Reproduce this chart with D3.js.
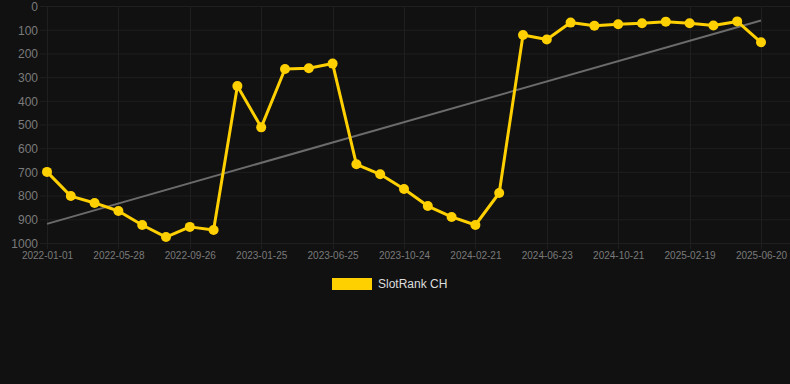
<!DOCTYPE html>
<html>
<head>
<meta charset="utf-8">
<script src="https://cdn.jsdelivr.net/npm/d3@7"></script>
<style>
  html, body { margin: 0; padding: 0; background: #111111; }
  svg { display: block; font-family: "Liberation Sans", Arial, sans-serif; }
</style>
</head>
<body>
<svg id="chart"></svg>
<script>
const dates = [
  "2022-01-01", "2022-02-19", "2022-04-09", "2022-05-28", "2022-07-08", "2022-08-17",
  "2022-09-26", "2022-11-05", "2022-12-16", "2023-01-25", "2023-03-16", "2023-05-05",
  "2023-06-25", "2023-08-04", "2023-09-13", "2023-10-24", "2023-12-03", "2024-01-12",
  "2024-02-21", "2024-04-01", "2024-05-13", "2024-06-23", "2024-08-02", "2024-09-11",
  "2024-10-21", "2024-11-30", "2025-01-10", "2025-02-19", "2025-03-31", "2025-05-11",
  "2025-06-20"
]
const ranks = [
  700, 802, 831, 865, 924, 975, 932, 945, 338, 512, 266, 263, 243, 668, 710, 772,
  844, 890, 924, 789, 122, 141, 70, 83, 77, 73, 66, 73, 82, 65, 153
]
const yTicks = [0, 100, 200, 300, 400, 500, 600, 700, 800, 900, 1000]
const seriesName = "SlotRank CH"

const width = 790
const height = 384
const margin = { top: 6, right: 29, bottom: 141, left: 47 }
const lineColor = "#ffd000"

const svg = d3.select("#chart").attr("width", width).attr("height", height)

const x = d3.scalePoint()
  .domain(dates)
  .range([margin.left, width - margin.right])

const y = d3.scaleLinear()
  .domain([0, 1000])
  .range([margin.top, height - margin.bottom])

// grid
const grid = svg.append("g").attr("class", "grid")
grid.selectAll("line.h")
  .data(yTicks)
  .join("line")
  .attr("class", "h")
  .attr("x1", 40)
  .attr("x2", width)
  .attr("y1", (d) => y(d) + 0.5)
  .attr("y2", (d) => y(d) + 0.5)
  .attr("stroke", "#1f1f1f")
  .attr("stroke-width", 1)

const labelled = dates.filter((d, i) => i % 3 === 0)
grid.selectAll("line.v")
  .data(labelled)
  .join("line")
  .attr("class", "v")
  .attr("x1", (d) => Math.round(x(d)) + 0.5)
  .attr("x2", (d) => Math.round(x(d)) + 0.5)
  .attr("y1", margin.top)
  .attr("y2", y(1000) + 6)
  .attr("stroke", "#1f1f1f")
  .attr("stroke-width", 1)

// y axis
const yAxis = svg.append("g")
  .attr("transform", `translate(${margin.left - 9},0)`)
  .call(d3.axisLeft(y).tickValues(yTicks).tickFormat(d3.format("d")).tickSize(0).tickPadding(0))
yAxis.select(".domain").remove()
yAxis.selectAll("text")
  .attr("fill", "#7a7a7a")
  .style("font-size", "12px")
  .attr("dy", "0.36em")

// x axis
const xAxis = svg.append("g")
  .attr("transform", `translate(0,${y(1000) + 9})`)
  .call(d3.axisBottom(x).tickValues(labelled).tickSize(0).tickPadding(0))
xAxis.select(".domain").remove()
xAxis.selectAll("text")
  .attr("fill", "#7a7a7a")
  .style("font-size", "10px")
  .attr("dy", "0.71em")

// trend line (least squares over index)
const n = ranks.length
const mx = d3.mean(d3.range(n))
const my = d3.mean(ranks)
const slope = d3.sum(ranks, (v, i) => (i - mx) * (v - my)) / d3.sum(d3.range(n), (i) => (i - mx) ** 2)
const icpt = my - slope * mx
svg.append("line")
  .attr("x1", x(dates[0]))
  .attr("y1", y(icpt))
  .attr("x2", x(dates[n - 1]))
  .attr("y2", y(icpt + slope * (n - 1)))
  .attr("stroke", "#6b6b6b")
  .attr("stroke-width", 2)

// series
const line = d3.line()
  .x((d, i) => x(dates[i]))
  .y((d) => y(d))

svg.append("path")
  .datum(ranks)
  .attr("d", line)
  .attr("fill", "none")
  .attr("stroke", lineColor)
  .attr("stroke-width", 3)
  .attr("stroke-linejoin", "round")

svg.append("g")
  .selectAll("circle")
  .data(ranks)
  .join("circle")
  .attr("cx", (d, i) => x(dates[i]))
  .attr("cy", (d) => y(d))
  .attr("r", 5)
  .attr("fill", lineColor)

// legend
const legend = svg.append("g").attr("transform", "translate(332,278)")
legend.append("rect")
  .attr("width", 40)
  .attr("height", 12)
  .attr("fill", lineColor)
legend.append("text")
  .attr("x", 46)
  .attr("y", 6)
  .attr("dy", "0.36em")
  .attr("fill", "#dddddd")
  .style("font-size", "12px")
  .text(seriesName)
</script>
</body>
</html>
